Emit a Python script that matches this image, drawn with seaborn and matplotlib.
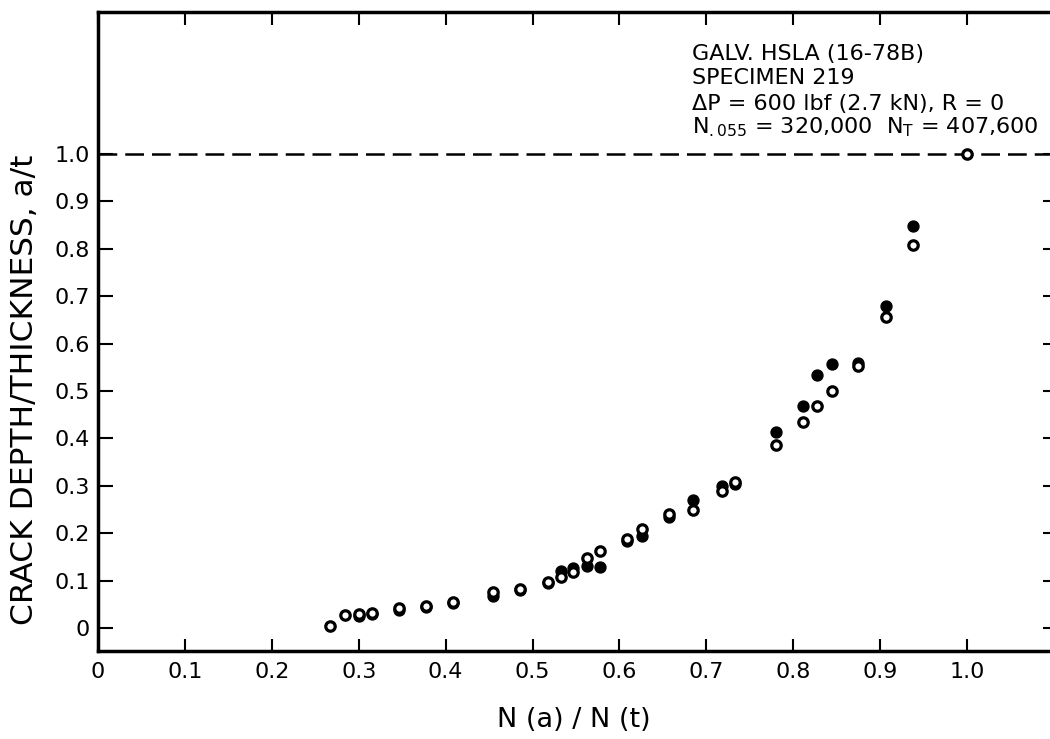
import matplotlib
matplotlib.use("Agg")
import matplotlib.pyplot as plt
import seaborn as sns
import pandas as pd

# Cycle ratio N(a)/N(t) and crack depth ratio a/t, open-symbol measurements
ratio_open = [0.267, 0.284, 0.300, 0.315, 0.346, 0.377, 0.409, 0.455, 0.486,
              0.518, 0.533, 0.547, 0.563, 0.578, 0.609, 0.626, 0.657, 0.685,
              0.718, 0.733, 0.780, 0.811, 0.827, 0.845, 0.875, 0.907, 0.938,
              1.000]
depth_open = [0.005, 0.027, 0.030, 0.032, 0.043, 0.047, 0.055, 0.076, 0.082,
              0.097, 0.107, 0.119, 0.147, 0.162, 0.188, 0.208, 0.241, 0.250,
              0.288, 0.307, 0.387, 0.434, 0.469, 0.499, 0.552, 0.656, 0.807,
              1.000]

# Filled-symbol measurements
ratio_filled = [0.300, 0.315, 0.346, 0.377, 0.409, 0.455, 0.486, 0.518, 0.533,
                0.547, 0.563, 0.578, 0.609, 0.626, 0.657, 0.685, 0.718, 0.733,
                0.780, 0.811, 0.827, 0.845, 0.875, 0.907, 0.938]
depth_filled = [0.026, 0.029, 0.039, 0.045, 0.053, 0.068, 0.080, 0.095, 0.121,
                0.126, 0.130, 0.128, 0.184, 0.195, 0.234, 0.271, 0.299, 0.304,
                0.414, 0.468, 0.534, 0.556, 0.560, 0.679, 0.849]

tick_values = [0.0, 0.1, 0.2, 0.3, 0.4, 0.5, 0.6, 0.7, 0.8, 0.9, 1.0]
tick_labels = ["0", "0.1", "0.2", "0.3", "0.4", "0.5", "0.6", "0.7", "0.8",
               "0.9", "1.0"]

info_lines = [
    "GALV. HSLA (16-78B)",
    "SPECIMEN 219",
    "ΔP = 600 lbf (2.7 kN), R = 0",
    r"$N_{.055}$ = 320,000  $N_T$ = 407,600",
]

sns.set_style("ticks")
plt.rcParams["font.family"] = ["DejaVu Sans"]
plt.rcParams["mathtext.default"] = "regular"
for key in ["text.color", "axes.labelcolor", "xtick.color", "ytick.color",
            "axes.edgecolor"]:
    plt.rcParams[key] = "black"

W, H = 1050, 739
fig = plt.figure(figsize=(W / 100, H / 100), dpi=100)
left_px, right_px, top_px, bottom_px = 98, 1050, 12, 651
ax = fig.add_axes([left_px / W, 1 - bottom_px / H,
                   (right_px - left_px) / W, (bottom_px - top_px) / H])

df_filled = pd.DataFrame({"ratio": ratio_filled, "depth": depth_filled})
df_open = pd.DataFrame({"ratio": ratio_open, "depth": depth_open})

sns.scatterplot(data=df_filled, x="ratio", y="depth", ax=ax, color="black",
                edgecolor="black", s=62, linewidth=1.0, zorder=3)
sns.scatterplot(data=df_open, x="ratio", y="depth", ax=ax, color="white",
                edgecolor="black", s=46, linewidth=2.3, zorder=4)

# through-thickness reference line
ax.axhline(1.0, color="black", lw=1.8, ls=(0, (7.5, 3.2)), zorder=2)

ax.set_xlim(0, 1.0955)
ax.set_ylim(-0.0485, 1.2996)
ax.set_xticks(tick_values)
ax.set_xticklabels(tick_labels)
ax.set_yticks(tick_values)
ax.set_yticklabels(tick_labels)

ax.tick_params(direction="in", top=True, right=False, width=1.5,
               labelsize=16, colors="black")
ax.tick_params(axis="x", length=9, pad=8)
ax.tick_params(axis="y", length=11, pad=6)

# short tick marks along the right edge
right_axis = ax.secondary_yaxis("right")
right_axis.set_yticks(tick_values)
right_axis.tick_params(direction="in", length=5, width=1.5,
                       labelright=False, colors="black")
right_axis.spines["right"].set_visible(False)

for side in ["left", "bottom", "top"]:
    ax.spines[side].set_linewidth(2.5)
    ax.spines[side].set_color("black")
ax.spines["right"].set_visible(False)

ax.set_xlabel("N (a) / N (t)", fontsize=19.5, labelpad=18)
ax.set_ylabel("CRACK DEPTH/THICKNESS, a/t", fontsize=22.5)
ax.yaxis.set_label_coords(-0.062, 0.408)

baselines = [60, 84, 110, 133]
for line, b in zip(info_lines, baselines):
    fig.text(692 / W, 1 - b / H, line, fontsize=16, ha="left",
             va="baseline")

fig.savefig("out.png", dpi=100, facecolor="white")
